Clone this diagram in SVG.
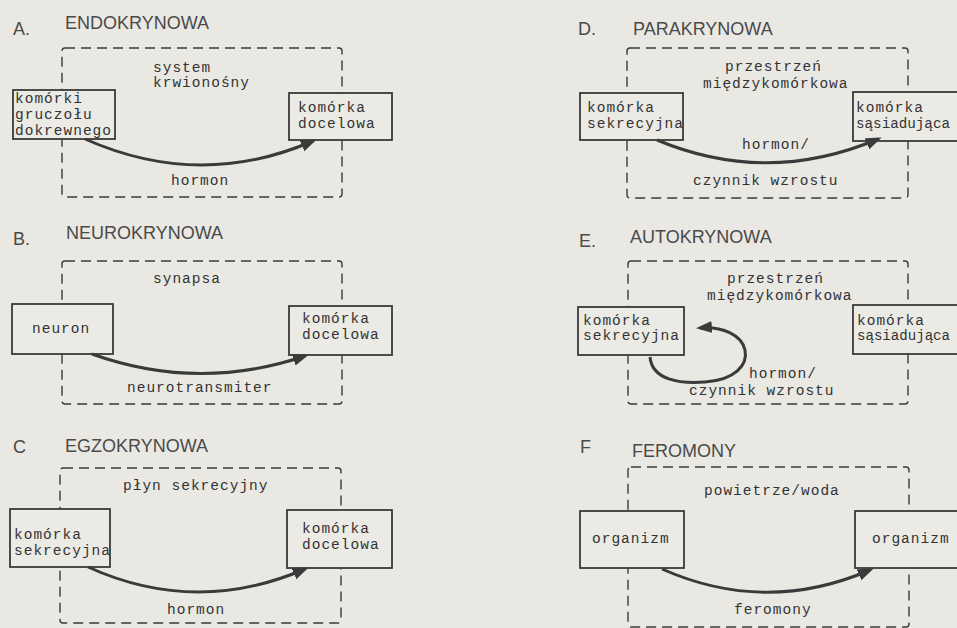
<svg xmlns="http://www.w3.org/2000/svg" width="957" height="628" viewBox="0 0 957 628">
<defs>
<style>
.bg{fill:#e9e8e3}
.box{fill:#ebeae5;stroke:#3a3a3a;stroke-width:1.8}
.dash{fill:none;stroke:#3a3a3a;stroke-width:1.4;stroke-dasharray:10 6}
.t{font-family:"Liberation Mono","DejaVu Sans Mono",monospace;font-size:14.5px;letter-spacing:1px;fill:#333}
.n{letter-spacing:0}
.h{font-family:"Liberation Sans",Arial,sans-serif;font-size:18px;fill:#4a4a4a}
.arr{fill:none;stroke:#3a3a3a;stroke-width:3;marker-end:url(#ah)}
</style>
<marker id="ah" markerUnits="userSpaceOnUse" markerWidth="18" markerHeight="14" refX="12" refY="6" orient="auto">
<path d="M0,0 L16,6 L0,12 z" fill="#3a3a3a"/>
</marker>
</defs>
<rect class="bg" x="0" y="0" width="957" height="628"/>

<!-- titles -->
<text class="h" x="13" y="35">A.</text>
<text class="h" x="65" y="29">ENDOKRYNOWA</text>
<text class="h" x="13" y="245">B.</text>
<text class="h" x="66" y="239">NEUROKRYNOWA</text>
<text class="h" x="13" y="453">C</text>
<text class="h" x="65" y="452">EGZOKRYNOWA</text>
<text class="h" x="578" y="35">D.</text>
<text class="h" x="633" y="35">PARAKRYNOWA</text>
<text class="h" x="579" y="247">E.</text>
<text class="h" x="630" y="243">AUTOKRYNOWA</text>
<text class="h" x="580" y="453">F</text>
<text class="h" x="632" y="457">FEROMONY</text>

<!-- compartments -->
<g id="spaceA"><rect class="dash" x="62" y="48" width="280" height="149" rx="3"/>
<text class="t" x="153" y="72">system</text><text class="t" x="153" y="87">krwionośny</text></g>
<g id="spaceB"><rect class="dash" x="62" y="261" width="280" height="143" rx="3"/>
<text class="t" x="153" y="283">synapsa</text></g>
<g id="spaceC"><rect class="dash" x="60" y="468" width="281" height="155" rx="3"/>
<text class="t" x="123" y="490">płyn sekrecyjny</text></g>
<g id="spaceD"><rect class="dash" x="627" y="48" width="281" height="150" rx="3"/>
<text class="t" x="725" y="71">przestrzeń</text><text class="t" x="703" y="88">międzykomórkowa</text></g>
<g id="spaceE"><rect class="dash" x="628" y="261" width="280" height="143" rx="3"/>
<text class="t" x="727" y="283">przestrzeń</text><text class="t" x="707" y="300">międzykomórkowa</text></g>
<g id="spaceF"><rect class="dash" x="628" y="467" width="281" height="160" rx="3"/>
<text class="t" x="704" y="495">powietrze/woda</text></g>

<!-- nodes -->
<g id="A-src"><rect class="box" x="13" y="90" width="102" height="49"/>
<text class="t" x="15" y="103">komórki</text><text class="t" x="15" y="119">gruczołu</text><text class="t" x="15" y="135">dokrewnego</text></g>
<g id="A-dst"><rect class="box" x="289" y="93" width="103" height="47"/>
<text class="t" x="298" y="112">komórka</text><text class="t" x="298" y="128">docelowa</text></g>

<g id="B-src"><rect class="box" x="12" y="304" width="101" height="50"/>
<text class="t" x="32" y="333">neuron</text></g>
<g id="B-dst"><rect class="box" x="289" y="306" width="103" height="49"/>
<text class="t" x="302" y="323">komórka</text><text class="t" x="302" y="339">docelowa</text></g>

<g id="C-src"><rect class="box" x="10" y="509" width="100" height="58"/>
<text class="t" x="14" y="539">komórka</text><text class="t" x="14" y="555">sekrecyjna</text></g>
<g id="C-dst"><rect class="box" x="287" y="510" width="105" height="58"/>
<text class="t" x="302" y="533">komórka</text><text class="t" x="302" y="549">docelowa</text></g>

<g id="D-src"><rect class="box" x="580" y="93" width="103" height="47"/>
<text class="t" x="587" y="112">komórka</text><text class="t" x="587" y="128">sekrecyjna</text></g>
<g id="D-dst"><rect class="box" x="853" y="92" width="120" height="49"/>
<text class="t" x="856" y="112">komórka</text><text class="t n" x="856" y="128" font-size="14" textLength="94" lengthAdjust="spacingAndGlyphs">sąsiadująca</text></g>

<g id="E-src"><rect class="box" x="578" y="307" width="106" height="48"/>
<text class="t" x="583" y="325">komórka</text><text class="t" x="583" y="340">sekrecyjna</text></g>
<g id="E-dst"><rect class="box" x="853" y="305" width="120" height="49"/>
<text class="t" x="857" y="325">komórka</text><text class="t n" x="857" y="340" font-size="14" textLength="93" lengthAdjust="spacingAndGlyphs">sąsiadująca</text></g>

<g id="F-src"><rect class="box" x="580" y="511" width="104" height="57"/>
<text class="t" x="592" y="543">organizm</text></g>
<g id="F-dst"><rect class="box" x="855" y="511" width="120" height="57"/>
<text class="t" x="872" y="543">organizm</text></g>

<!-- connectors -->
<g id="connectors">
<path class="arr" d="M85,139 Q200,190 313,141"/>
<path class="arr" d="M92,354 Q198,392 305,356"/>
<path class="arr" d="M88,567 Q196,616 305,569"/>
<path class="arr" d="M657,140 Q767,186 878,139"/>
<path class="arr" d="M650,357 C652,380 680,384 705,382 C735,380 748,365 745,350 C742,335 722,326 700,328"/>
<path class="arr" d="M662,569 Q766,615 870,570"/>
<text class="t" x="171" y="185">hormon</text>
<text class="t" x="127" y="392">neurotransmiter</text>
<text class="t" x="167" y="614">hormon</text>
<text class="t" x="742" y="149">hormon/</text>
<text class="t" x="693" y="185">czynnik wzrostu</text>
<text class="t" x="749" y="378">hormon/</text>
<text class="t" x="689" y="395">czynnik wzrostu</text>
<text class="t" x="734" y="614">feromony</text>
</g>
</svg>
